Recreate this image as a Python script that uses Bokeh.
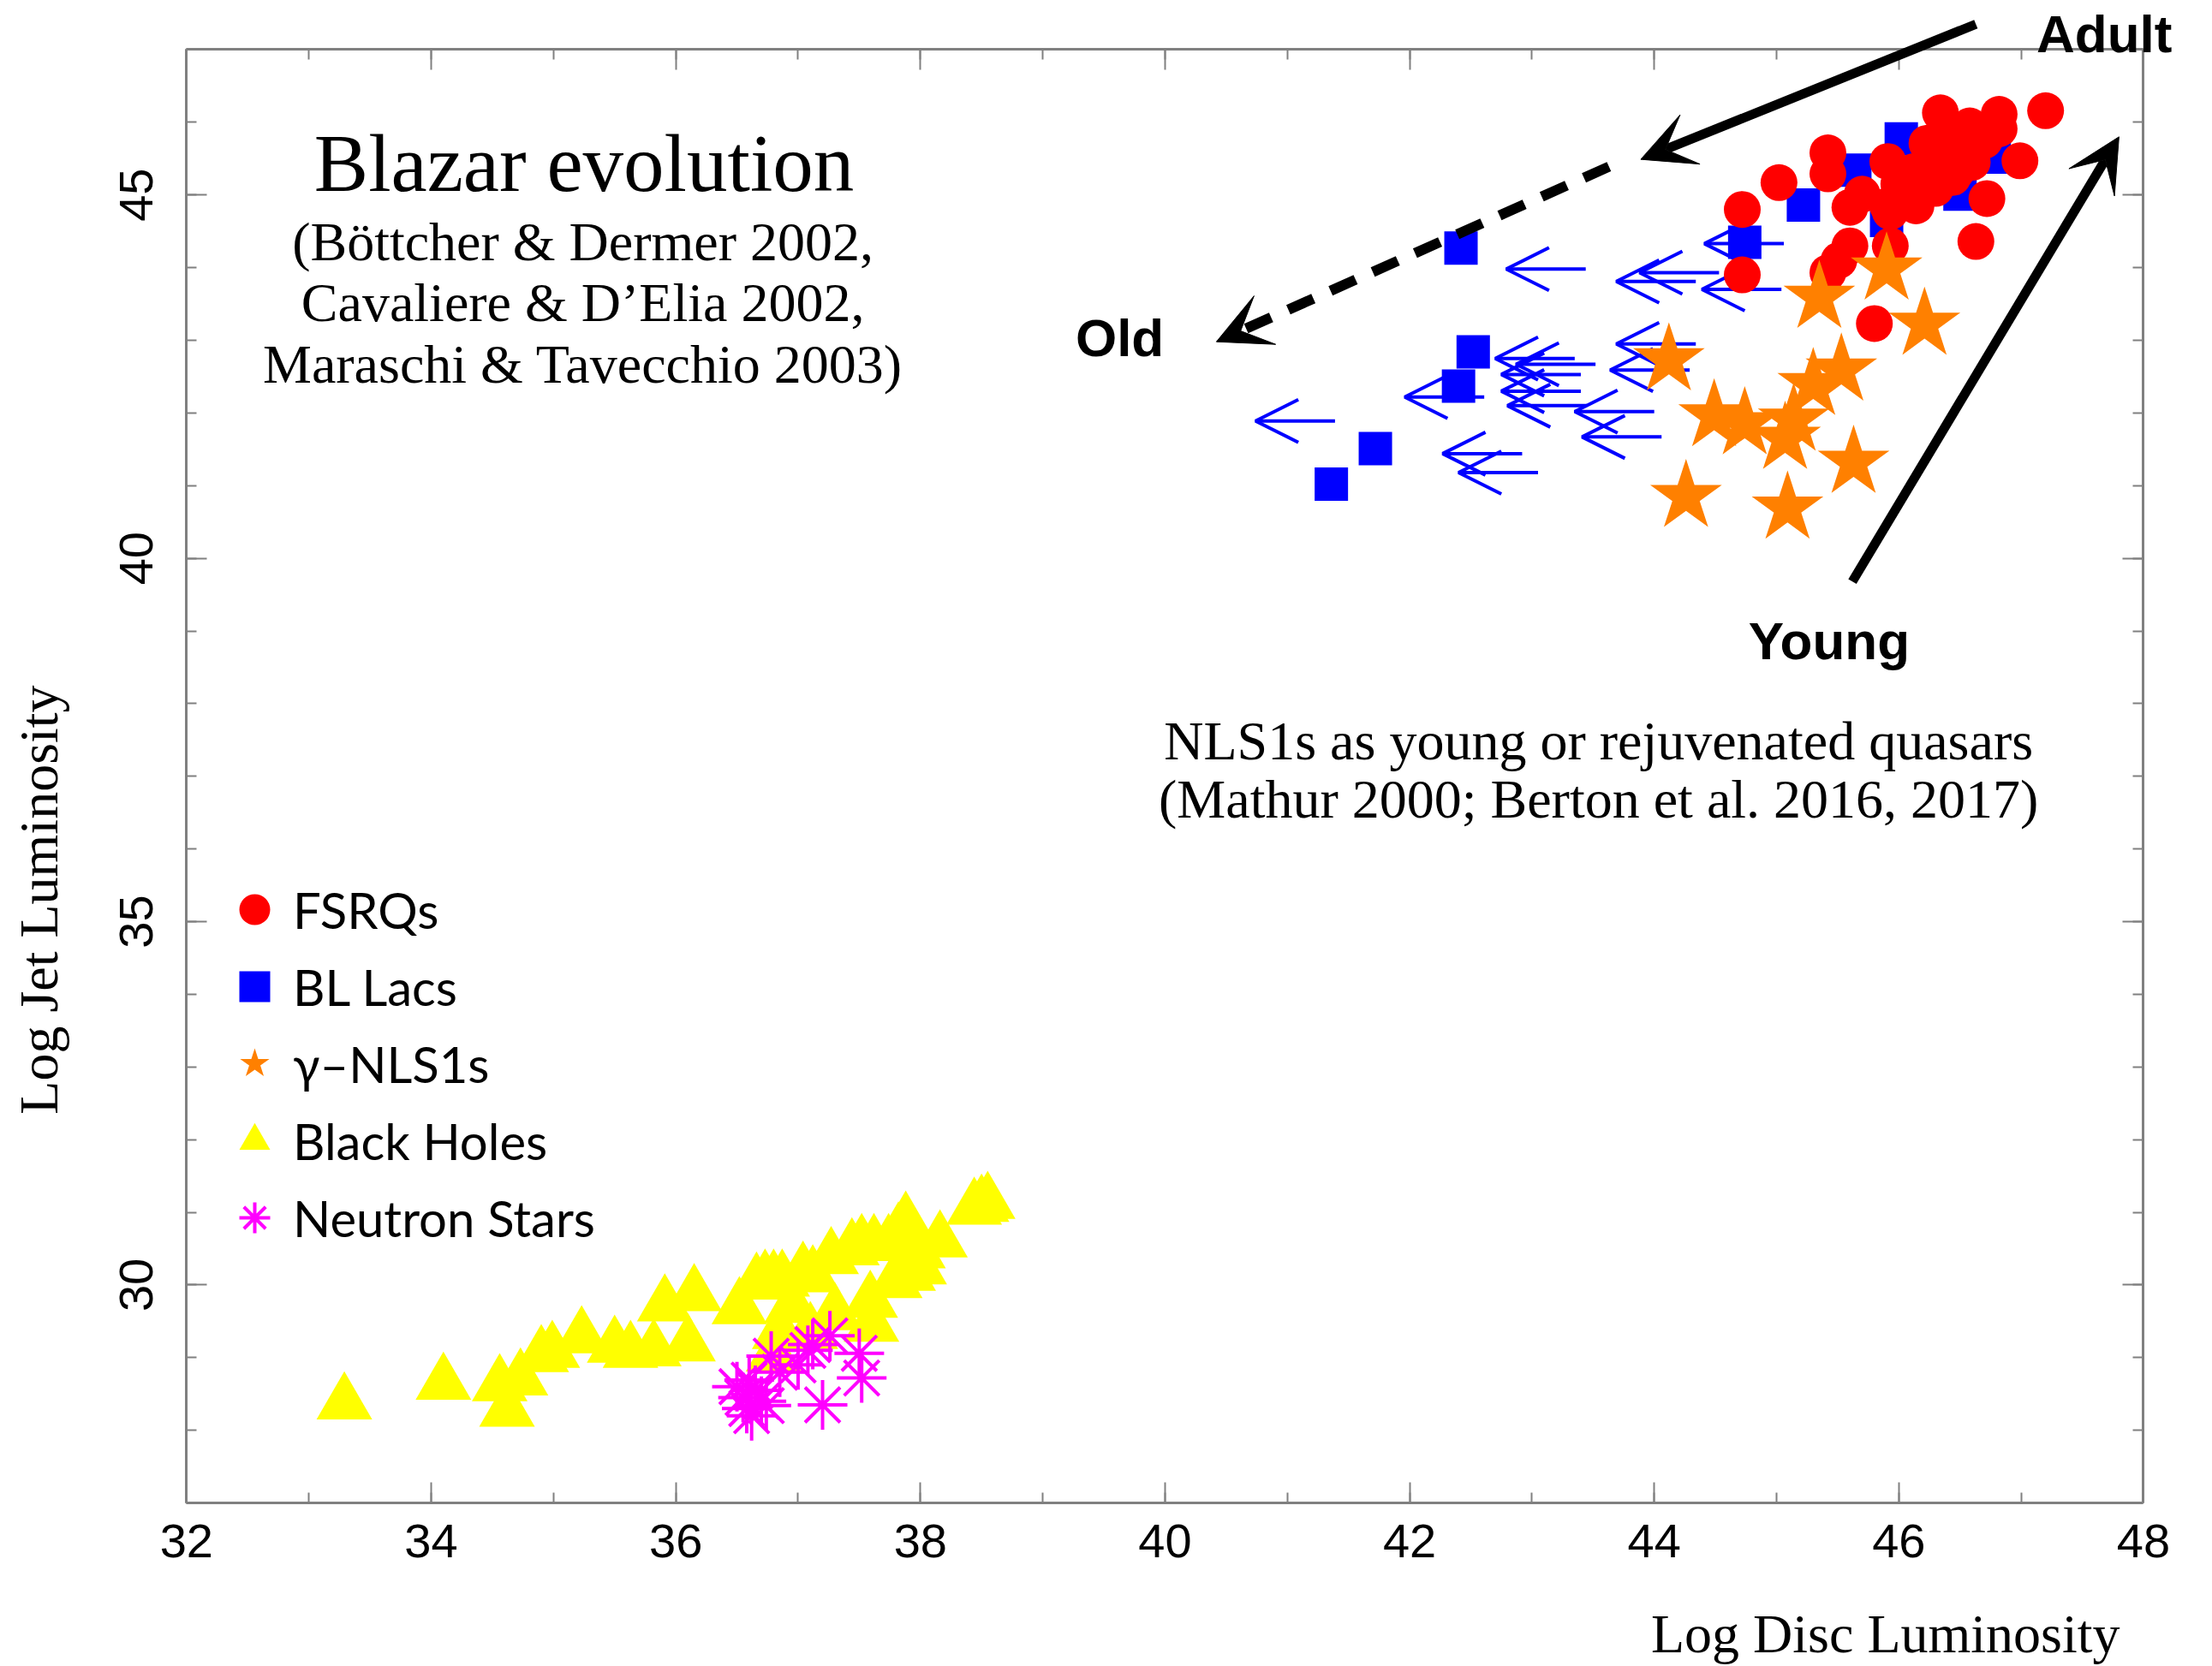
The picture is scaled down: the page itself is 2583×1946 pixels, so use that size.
import math
from bokeh.plotting import figure
from bokeh.models import (ColumnDataSource, Arrow, OpenHead, VeeHead, Label, Legend,
                          LegendItem, LinearAxis, FixedTicker, Range1d)
from bokeh.embed import file_html
from bokeh.resources import INLINE

# ---------------- data ----------------
fsrq_x = [44.72, 44.72, 45.02, 45.42, 45.42, 45.60, 45.60, 45.51, 45.42, 45.93, 45.80,
          46.63, 46.99, 47.20, 46.72, 46.34, 46.82, 46.82, 45.91, 46.12, 46.58, 46.30,
          46.47, 45.91, 46.14, 46.30, 46.12, 46.44, 46.53, 46.23, 45.70, 45.93, 46.00,
          46.25, 46.60, 46.70, 46.45]
fsrq_y = [44.80, 43.90, 45.17, 45.58, 45.29, 44.83, 44.30, 44.10, 43.93, 44.30, 43.23,
          44.36, 45.47, 46.16, 44.95, 46.13, 46.11, 45.91, 45.46, 45.32, 45.95, 45.75,
          45.32, 44.85, 44.85, 45.09, 44.89, 45.24, 45.60, 45.71, 45.01, 44.77, 45.15,
          45.45, 45.45, 45.75, 45.85]

bllac_x = [42.42, 42.52, 42.40, 41.72, 41.36, 44.74, 45.22, 45.64, 46.02, 45.90, 46.50, 46.78]
bllac_y = [44.27, 42.84, 42.37, 41.51, 41.02, 44.35, 44.86, 45.34, 45.77, 44.65, 45.01, 45.52]

# BL Lac upper limits on disc luminosity (drawn as left-pointing arrows)
bllim_x = [43.44, 44.34, 44.53, 45.06, 45.04, 44.34, 44.29, 43.35, 43.52, 43.40, 43.40,
           43.45, 42.61, 44.00, 44.06, 41.39, 42.92, 43.05]
bllim_y = [43.98, 43.81, 43.93, 44.33, 43.70, 42.95, 42.59, 42.75, 42.67, 42.53, 42.30,
           42.10, 42.22, 42.02, 41.67, 41.89, 41.44, 41.18]
limit_len = 0.65

nls1_x = [44.12, 45.35, 45.90, 46.21, 45.53, 45.30, 45.14, 45.07, 44.49, 44.74, 45.63, 45.09, 44.26]
nls1_y = [42.73, 43.59, 43.98, 43.22, 42.59, 42.39, 41.90, 41.65, 41.96, 41.85, 41.32, 40.69, 40.85]

bh_x = [33.29, 34.10, 34.56, 34.62, 34.73, 34.90, 34.99, 35.23, 35.50, 35.63, 35.82, 35.91,
        36.15, 36.10, 36.52, 36.66, 36.73, 36.80, 36.87, 37.04, 37.12, 37.27, 37.44, 37.52,
        37.62, 37.74, 37.82, 37.88, 38.16, 38.44, 38.50, 38.55, 37.98, 37.99, 37.90, 37.79,
        37.59, 37.60, 36.85, 37.10, 36.80, 37.30, 36.95]
bh_y = [28.37, 28.64, 28.62, 28.27, 28.70, 29.02, 29.08, 29.28, 29.15, 29.08, 29.10, 29.72,
        29.86, 29.17, 29.68, 30.02, 30.06, 30.06, 30.06, 30.17, 30.12, 30.37, 30.49, 30.55,
        30.55, 30.55, 30.71, 30.86, 30.60, 31.05, 31.09, 31.13, 30.45, 30.23, 30.14, 30.04,
        29.77, 29.44, 29.34, 29.34, 29.03, 29.60, 29.70]

ns_x = [36.50, 36.55, 36.58, 36.62, 36.65, 36.60, 36.70, 36.74, 36.78, 36.85, 37.00, 37.08,
        37.12, 37.20, 37.26, 37.50, 37.52]
ns_y = [28.60, 28.45, 28.30, 28.20, 28.55, 28.69, 28.40, 28.34, 29.02, 28.80, 28.90, 29.10,
        29.18, 28.35, 29.30, 29.06, 28.72]

x_lo, x_hi = 32, 48
y_lo, y_hi = 27, 47
x_major = [32, 34, 36, 38, 40, 42, 44, 46, 48]
x_minor = list(range(32, 49))
y_major = [30, 35, 40, 45]
y_minor = list(range(27, 48))

# ---------------- figure ----------------
# the frame fills the whole canvas; the box axes sit at fixed data locations
W, H = 2580, 1944
p = figure(width=W, height=H, output_backend="svg", toolbar_location=None,
           x_range=Range1d(30.478, 48.543), y_range=Range1d(24.774, 47.677),
           x_axis_location=None, y_axis_location=None,
           min_border=0, min_border_left=0, min_border_right=0,
           min_border_top=0, min_border_bottom=0,
           background_fill_color="white", border_fill_color="white",
           outline_line_color=None)
p.xgrid.visible = False
p.ygrid.visible = False

AX = "#808080"
def make_axis(ticks, minor, loc, bounds, labels=True):
    ax = LinearAxis(fixed_location=loc, bounds=bounds)
    ax.ticker = FixedTicker(ticks=ticks, minor_ticks=minor)
    ax.axis_line_color = AX
    ax.axis_line_width = 3
    ax.major_tick_line_color = AX
    ax.minor_tick_line_color = AX
    ax.major_tick_line_width = 2
    ax.minor_tick_line_width = 2
    ax.major_tick_in = 24
    ax.major_tick_out = 0
    ax.minor_tick_in = 12
    ax.minor_tick_out = 0
    if labels:
        ax.major_label_text_font = "Liberation Sans"
        ax.major_label_text_font_size = "56px"
        ax.major_label_text_color = "black"
    else:
        ax.major_label_text_font_size = "0px"
        ax.major_label_standoff = 0
    return ax

bottom_ax = make_axis(x_major, x_minor, y_lo, (x_lo, x_hi))
bottom_ax.major_label_standoff = 25
p.add_layout(bottom_ax, "below")
left_ax = make_axis(y_major, y_minor, x_lo, (y_lo, y_hi))
left_ax.major_label_orientation = "parallel"
left_ax.major_label_standoff = 40
p.add_layout(left_ax, "left")
p.add_layout(make_axis(x_major, x_minor, y_hi, (x_lo, x_hi), labels=False), "above")
p.add_layout(make_axis(y_major, y_minor, x_hi, (y_lo, y_hi), labels=False), "right")

# ---------------- data marks ----------------
r_bh = p.scatter(bh_x, bh_y, marker="triangle", size=65, fill_color="#FFFF00",
                 line_color=None)
r_ns = p.scatter(ns_x, ns_y, marker="asterisk", size=58, line_color="#FF00FF",
                 line_width=4)
r_bl = p.scatter(bllac_x, bllac_y, marker="square", size=39, fill_color="#0000FF",
                 line_color=None)
r_fs = p.scatter(fsrq_x, fsrq_y, marker="circle", size=43, fill_color="#FF0000",
                 line_color=None)
r_nl = p.scatter(nls1_x, nls1_y, marker="star", size=88, fill_color="#FF8000",
                 line_color=None)

lim_src = ColumnDataSource(data=dict(x=bllim_x, y=bllim_y,
                                     xe=[v - limit_len for v in bllim_x]))
p.add_layout(Arrow(end=OpenHead(size=50, line_color="#0000FF", line_width=4),
                   x_start="x", y_start="y", x_end="xe", y_end="y", source=lim_src,
                   line_color="#0000FF", line_width=4, level="underlay"))

# ---------------- evolution arrows ----------------
def vee():
    return VeeHead(size=62, fill_color="black", line_color="black")

p.add_layout(Arrow(end=vee(), x_start=46.63, y_start=47.35, x_end=43.89, y_end=45.49,
                   line_color="black", line_width=11))
p.add_layout(Arrow(end=vee(), x_start=43.63, y_start=45.39, x_end=40.42, y_end=42.98,
                   line_color="black", line_width=12, line_dash="32 22"))
p.add_layout(Arrow(end=vee(), x_start=45.62, y_start=39.68, x_end=47.80, y_end=45.80,
                   line_color="black", line_width=11))

# ---------------- texts ----------------
def serif(text, x, y, size, align="center", angle=0.0, baseline="alphabetic"):
    p.add_layout(Label(x=x, y=y, text=text, text_align=align, angle=angle,
                       text_baseline=baseline, text_font="Liberation Serif",
                       text_font_size=size, text_color="black"))

serif("Blazar evolution", 35.25, 45.43, "95px")
serif("(Böttcher & Dermer 2002,", 35.24, 44.36, "64px")
serif("Cavaliere & D\u2019Elia 2002,", 35.24, 43.52, "64px")
serif("Maraschi & Tavecchio 2003)", 35.24, 42.67, "64px")
serif("NLS1s as young or rejuvenated quasars", 43.545, 37.49, "64px")
serif("(Mathur 2000; Berton et al. 2016, 2017)", 43.545, 36.68, "64px")
serif("Log Disc Luminosity", 47.808, 25.20, "64px", align="right")
serif("Log Jet Luminosity", 30.79, 35.30, "64px", angle=math.pi / 2, baseline="middle")

def bold(text, x, y):
    p.add_layout(Label(x=x, y=y, text=text, text_align="center",
                       text_baseline="alphabetic", text_font="Liberation Sans",
                       text_font_style="bold", text_font_size="62px", text_color="black"))

bold("Old", 39.63, 43.03)
bold("Adult", 47.68, 47.22)
bold("Young", 45.43, 38.86)

# ---------------- legend ----------------
legend = Legend(items=[LegendItem(label="FSRQs", renderers=[r_fs]),
                       LegendItem(label="BL Lacs", renderers=[r_bl]),
                       LegendItem(label="\u03b3\u2013NLS1s", renderers=[r_nl]),
                       LegendItem(label="Black Holes", renderers=[r_bh]),
                       LegendItem(label="Neutron Stars", renderers=[r_ns])],
                location=(252, 477), glyph_width=90, glyph_height=90, spacing=0,
                padding=0, margin=0, border_line_color=None, background_fill_alpha=0,
                label_text_font="Lato", label_text_font_size="58px",
                label_standoff=0, label_text_color="black")
p.add_layout(legend)

open("out.html", "w").write(file_html(p, INLINE))
